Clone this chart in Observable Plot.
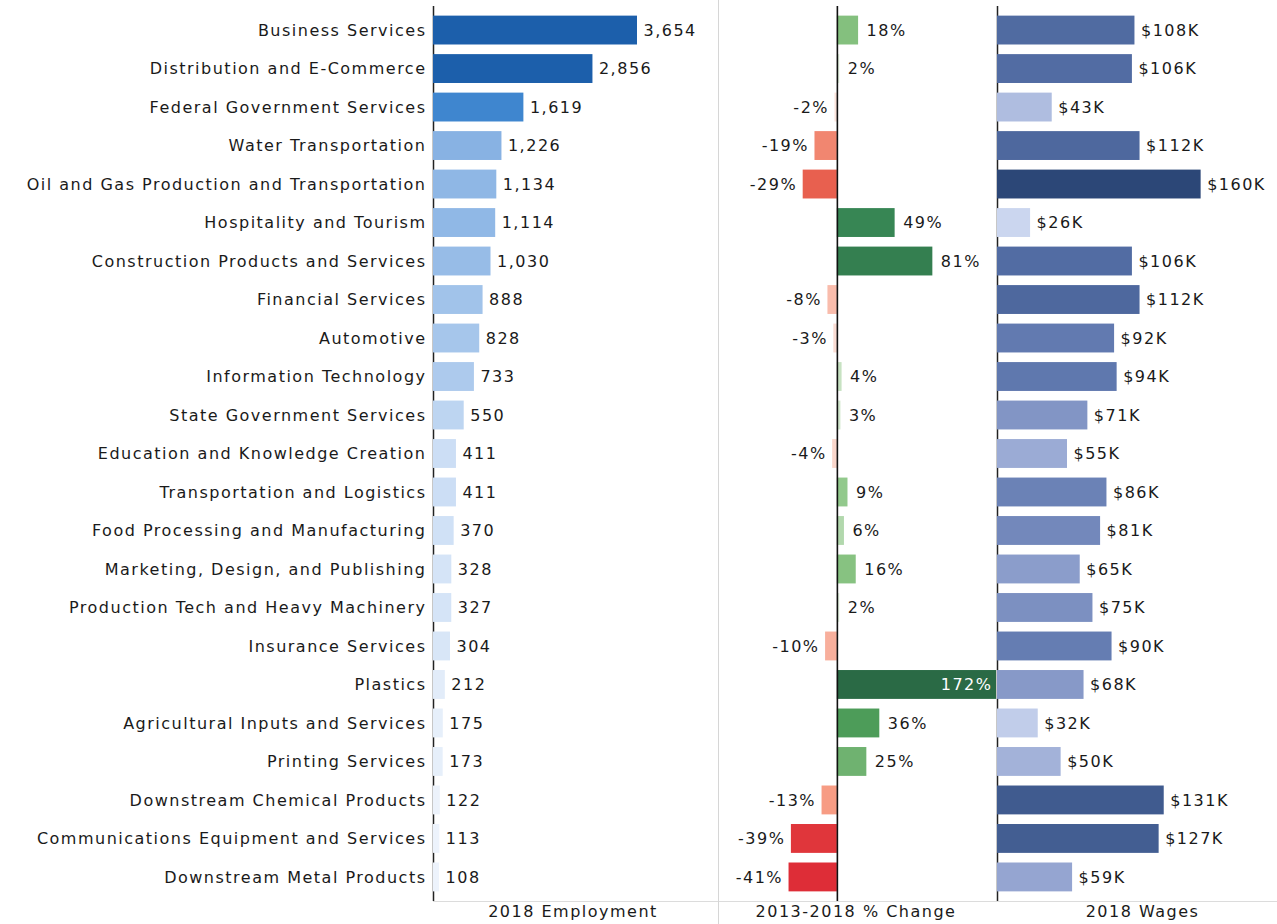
<!DOCTYPE html>
<html>
<head>
<meta charset="utf-8">
<script src="https://cdn.jsdelivr.net/npm/d3@7"></script>
<script src="https://cdn.jsdelivr.net/npm/@observablehq/plot@0.6"></script>
<style>
  html, body { margin: 0; padding: 0; background: #fff; overflow: hidden; }
  #wrap { position: relative; width: 1277px; height: 924px; overflow: hidden; }
  .panel { position: absolute; top: 0; }
  .panel svg { display: block; }
  #p1 { left: 0; }
  #p2 { left: 718px; border-left: 1px solid #d6d6d6; }
  #p3 { left: 995px; }
  #base { position: absolute; left: 433px; top: 901px; width: 844px; height: 0; border-top: 1px solid #dcdcdc; }
</style>
</head>
<body>
<div id="wrap">
  <div id="base"></div>
  <div class="panel" id="p1"></div>
  <div class="panel" id="p2"></div>
  <div class="panel" id="p3"></div>
</div>
<script>
const industries = [
  "Business Services",
  "Distribution and E-Commerce",
  "Federal Government Services",
  "Water Transportation",
  "Oil and Gas Production and Transportation",
  "Hospitality and Tourism",
  "Construction Products and Services",
  "Financial Services",
  "Automotive",
  "Information Technology",
  "State Government Services",
  "Education and Knowledge Creation",
  "Transportation and Logistics",
  "Food Processing and Manufacturing",
  "Marketing, Design, and Publishing",
  "Production Tech and Heavy Machinery",
  "Insurance Services",
  "Plastics",
  "Agricultural Inputs and Services",
  "Printing Services",
  "Downstream Chemical Products",
  "Communications Equipment and Services",
  "Downstream Metal Products"
];
const employment = [3654,2856,1619,1226,1134,1114,1030,888,828,733,550,411,411,370,328,327,304,212,175,173,122,113,108];
const pctChange = [18,2,-2,-19,-29,49,81,-8,-3,4,3,-4,9,6,16,2,-10,172,36,25,-13,-39,-41];
const wages = [108,106,43,112,160,26,106,112,92,94,71,55,86,81,65,75,90,68,32,50,131,127,59];
const panelTitles = ["2018 Employment", "2013-2018 % Change", "2018 Wages"];

const rows = industries.map((name, i) => ({
  name, emp: employment[i], pct: pctChange[i], wage: wages[i]
}));

const H = 924;
const FONT = "DejaVu Sans, sans-serif";
const common = {
  height: H,
  marginTop: 6,
  marginBottom: 23,
  style: { fontFamily: FONT, fontSize: "16px", letterSpacing: "1.5px", color: "#1a1a1a", background: "transparent", overflow: "visible" }
};
const yScale = { domain: industries, padding: 0.25, round: false, axis: null };
const fmtEmp = d3.format(",");
const titleMark = (t, dx = 0) => Plot.text([t], { frameAnchor: "bottom", dy: 15, dx, text: d => d, fill: "#1a1a1a", fontSize: 16 });

// Panel 1: employment
const p1 = Plot.plot({
  ...common,
  width: 718,
  marginLeft: 433,
  marginRight: 0,
  x: { domain: [0, 5105], axis: null },
  y: yScale,
  color: {
    type: "linear",
    domain: [100, 600, 1250, 1619, 2856],
    range: ["#eef4fc", "#b7d1f0", "#86b1e3", "#3f86cf", "#1c5fab"],
    clamp: true
  },
  marks: [
    Plot.ruleX([0], { stroke: "#222", strokeWidth: 1.5 }),
    Plot.barX(rows, { y: "name", x: "emp", fill: "emp" }),
    Plot.axisY({ tickSize: 0, tickPadding: 7, label: null, fontSize: 16 }),
    Plot.text(rows, { y: "name", x: "emp", text: d => fmtEmp(d.emp), textAnchor: "start", dx: 6, fill: "#1a1a1a" }),
    titleMark(panelTitles[0], -3)
  ]
});
document.getElementById("p1").append(p1);

// Panel 2: % change
const pctDomain = [-100, 135];
const p2 = Plot.plot({
  ...common,
  width: 277,
  marginLeft: 0,
  marginRight: 0,
  x: { domain: pctDomain, axis: null, clamp: true },
  y: yScale,
  color: {
    type: "linear",
    domain: [-41, -29, -13, -1, 0, 1, 9, 18, 36, 49, 172],
    range: ["#de2d37", "#e8604f", "#f79c84", "#fbe9e3", "#f3f4ef", "#e6f1e3", "#92c98c", "#84c07e", "#4d9c59", "#378654", "#2a6a45"],
    clamp: true
  },
  marks: [
    Plot.barX(rows, { y: "name", x1: 0, x2: "pct", fill: "pct" }),
    Plot.ruleX([0], { stroke: "#111", strokeWidth: 1.6 }),
    Plot.text(rows.filter(d => d.pct >= 0 && d.pct <= pctDomain[1]), { y: "name", x: "pct", text: d => d.pct + "%", textAnchor: "start", dx: 8, fill: "#1a1a1a" }),
    Plot.text(rows.filter(d => d.pct < 0), { y: "name", x: "pct", text: d => d.pct + "%", textAnchor: "end", dx: -6, fill: "#1a1a1a" }),
    Plot.text(rows.filter(d => d.pct > pctDomain[1]), { y: "name", x: pctDomain[1], text: d => d.pct + "%", textAnchor: "end", dx: -4, fill: "#ffffff" }),
    titleMark(panelTitles[1], -2)
  ]
});
document.getElementById("p2").append(p2);

// Panel 3: wages
const p3 = Plot.plot({
  ...common,
  width: 282,
  marginLeft: 2,
  marginRight: 0,
  x: { domain: [0, 220], axis: null },
  y: yScale,
  color: {
    type: "linear",
    domain: [26, 60, 100, 160],
    range: ["#cbd6ef", "#93a3d0", "#5670a8", "#2c4777"],
    clamp: true
  },
  marks: [
    Plot.ruleX([0], { stroke: "#222", strokeWidth: 1.5 }),
    Plot.barX(rows, { y: "name", x: "wage", fill: "wage" }),
    Plot.text(rows, { y: "name", x: "wage", text: d => "$" + d.wage + "K", textAnchor: "start", dx: 6, fill: "#1a1a1a" }),
    titleMark(panelTitles[2], 5)
  ]
});
document.getElementById("p3").append(p3);
</script>
</body>
</html>
